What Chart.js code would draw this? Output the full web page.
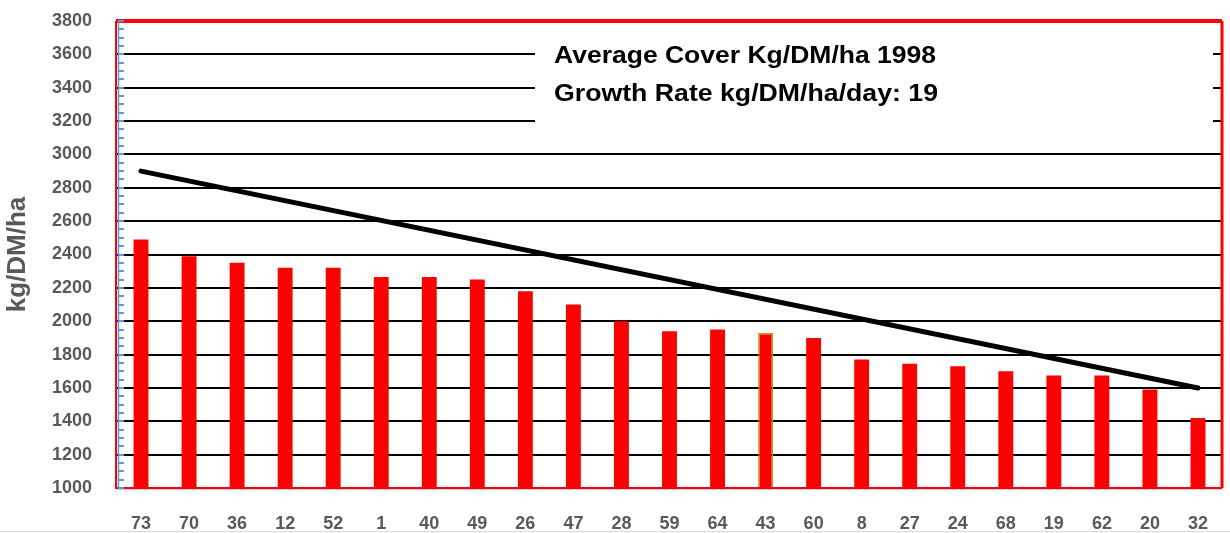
<!DOCTYPE html>
<html>
<head>
<meta charset="utf-8">
<script src="https://cdn.jsdelivr.net/npm/chart.js@4/dist/chart.umd.min.js"></script>
<style>
  html, body { margin: 0; padding: 0; background: #fff; }
  #wrap { width: 1230px; height: 533px; position: relative; }
</style>
</head>
<body>
<div id="wrap"><canvas id="chart" width="1230" height="533"></canvas></div>
<script>
// paddock numbers, sorted by cover
const paddocks = ['73', '70', '36', '12', '52', '1', '40', '49', '26', '47', '28', '59', '64', '43', '60', '8', '27', '24', '68', '19', '62', '20', '32'];
const coverValues = [2490, 2390, 2350, 2320, 2320, 2265, 2265, 2250, 2180, 2100, 2000, 1940, 1950, 1930, 1900, 1770, 1745, 1730, 1700, 1675, 1675, 1590, 1420];
// feed wedge target line (start and end only)
const targetStart = 2900;
const targetEnd = 1600;
const yTicks = [1000, 1200, 1400, 1600, 1800, 2000, 2200, 2400, 2600, 2800, 3000, 3200, 3400, 3600, 3800];
const titleLines = ['Average Cover Kg/DM/ha 1998', 'Growth Rate kg/DM/ha/day: 19'];
const highlighted = '43';

const targetData = paddocks.map(function(p, i) {
    if (i === 0) return targetStart;
    if (i === paddocks.length - 1) return targetEnd;
    return null;
});

const barBorders = paddocks.map(function(p) { return p === highlighted ? '#b8960c' : '#ff0000'; });
const barBorderWidths = paddocks.map(function(p) { return p === highlighted ? 1.5 : 0; });

const gray = '#595959';

// caja de texto, marco rojo y marcas menores azules
const decor = {
    id: 'decor',
    afterDraw: function(chart) {
        const ctx = chart.ctx;
        const a = chart.chartArea;
        const y = chart.scales.y;
        ctx.save();

        // text box
        ctx.fillStyle = '#fff';
        ctx.fillRect(535, 30, 678, 106);
        ctx.fillStyle = '#000';
        ctx.font = 'bold 23px "Liberation Sans", Arial, sans-serif';
        ctx.textBaseline = 'middle';
        ctx.textAlign = 'left';
        const widths = [382, 384];
        const ys = [57, 95];
        titleLines.forEach(function(t, i) {
            const w = ctx.measureText(t).width;
            ctx.save();
            ctx.translate(554, ys[i]);
            ctx.scale(widths[i] / w, 1);
            ctx.fillText(t, 0, 0);
            ctx.restore();
        });

        // frame
        ctx.strokeStyle = '#ff0000';
        ctx.lineWidth = 4;
        ctx.beginPath();
        ctx.moveTo(a.left - 1, a.top);
        ctx.lineTo(a.right, a.top);
        ctx.stroke();
        ctx.lineWidth = 3;
        ctx.beginPath();
        ctx.moveTo(a.right, a.top);
        ctx.lineTo(a.right, a.bottom);
        ctx.stroke();
        ctx.lineWidth = 2;
        ctx.beginPath();
        ctx.moveTo(a.right, a.bottom);
        ctx.lineTo(a.left - 1, a.bottom);
        ctx.lineTo(a.left - 1, a.top);
        ctx.stroke();
        ctx.strokeStyle = '#d0d0d0';
        ctx.lineWidth = 1;
        ctx.beginPath();
        ctx.moveTo(a.left, a.bottom + 1.5);
        ctx.lineTo(a.right, a.bottom + 1.5);
        ctx.stroke();

        // blue axis with minor ticks
        ctx.strokeStyle = '#5b9bd5';
        ctx.lineWidth = 1.5;
        ctx.beginPath();
        ctx.moveTo(a.left + 1.5, a.top);
        ctx.lineTo(a.left + 1.5, a.bottom);
        ctx.stroke();
        ctx.lineWidth = 2;
        ctx.beginPath();
        for (let v = y.min; v <= y.max; v += 50) {
            const py = Math.round(y.getPixelForValue(v));
            ctx.moveTo(a.left + 1, py);
            ctx.lineTo(a.left + 7, py);
        }
        ctx.stroke();

        ctx.strokeStyle = '#d9d9d9';
        ctx.lineWidth = 1;
        ctx.beginPath();
        ctx.moveTo(0, 531.5);
        ctx.lineTo(1230, 531.5);
        ctx.stroke();
        ctx.restore();
    }
};

const ctx = document.getElementById('chart').getContext('2d');
new Chart(ctx, {
    type: 'bar',
    data: {
        labels: paddocks,
        datasets: [{
            type: 'line',
            label: 'Target',
            data: targetData,
            spanGaps: true,
            borderColor: '#000',
            borderWidth: 5,
            borderCapStyle: 'round',
            pointRadius: 0,
            fill: false,
            order: 0
        }, {
            label: 'Cover',
            data: coverValues,
            backgroundColor: '#ff0000',
            borderColor: barBorders,
            borderWidth: barBorderWidths,
            barPercentage: 0.31,
            categoryPercentage: 1,
            order: 1
        }]
    },
    options: {
        responsive: false,
        animation: false,
        devicePixelRatio: 1,
        layout: { padding: { top: 21, right: 8, left: 0, bottom: 0 } },
        plugins: {
            legend: { display: false },
            tooltip: { enabled: false }
        },
        scales: {
            x: {
                grid: { display: false },
                border: { display: false },
                ticks: {
                    color: gray,
                    font: { family: '"Liberation Sans", Arial, sans-serif', size: 18, weight: 'bold' },
                    padding: 17,
                    maxRotation: 0,
                    autoSkip: false
                },
                afterFit: function(s) { s.height = 45; }
            },
            y: {
                min: 1000,
                max: 3800,
                afterBuildTicks: function(s) { s.ticks = yTicks.map(function(v) { return { value: v }; }); },
                grid: { color: '#000', lineWidth: 2, drawTicks: true, tickLength: 25, tickColor: 'rgba(0,0,0,0)' },
                border: { display: false },
                ticks: {
                    color: gray,
                    font: { family: '"Liberation Sans", Arial, sans-serif', size: 18, weight: 'bold' },
                    padding: 0,
                    autoSkip: false,
                    callback: function(v) { return String(v); }
                },
                title: {
                    display: true,
                    text: 'kg/DM/ha',
                    color: gray,
                    font: { family: '"Liberation Sans", Arial, sans-serif', size: 26, weight: 'bold' },
                    padding: { top: 2, bottom: 0 }
                },
                afterFit: function(s) { s.width = 117; }
            }
        }
    },
    plugins: [decor]
});
</script>
</body>
</html>
